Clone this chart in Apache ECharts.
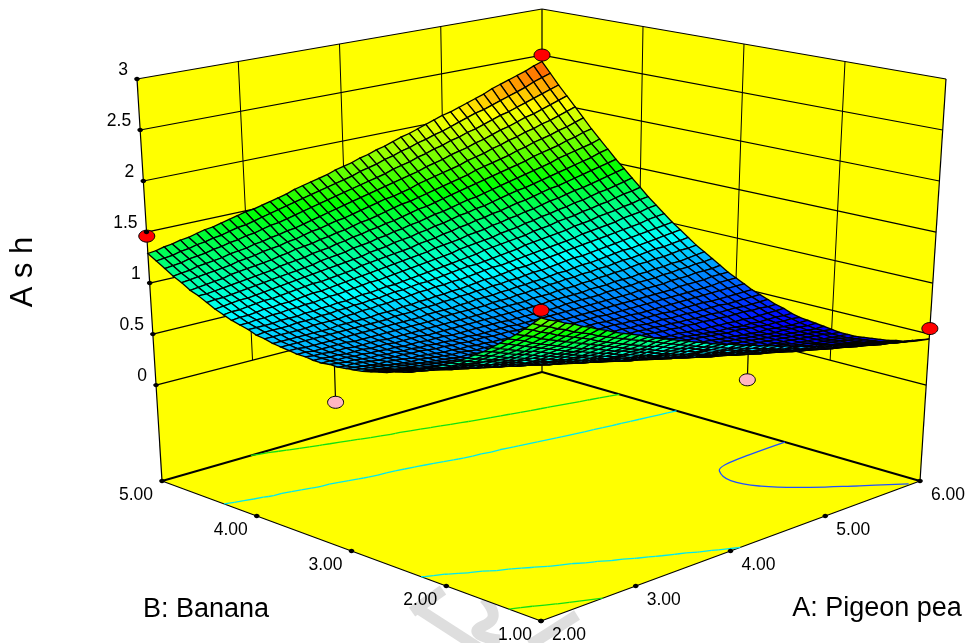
<!DOCTYPE html>
<html><head><meta charset="utf-8">
<style>html,body{margin:0;padding:0;background:#fff}#c{width:977px;height:643px}</style>
<script src="https://cdn.jsdelivr.net/npm/echarts@6/dist/echarts.min.js"></script>
</head><body><div id="c"></div>
<script>
const aTicks=[2,3,4,5,6];
const bTicks=[1,2,3,4,5];
const zTicks=[0,0.5,1,1.5,2,2.5,3];
const redA=[6,2,6,2], redB=[5,5,1,1], redZ=[2.5,1.46,0.554,1.817];
const pinkA=[2,4.12], pinkB=[3.12,1], pinkZ=[0.41,0.62], pinkTop=[0.78,0.93];
const contourLevels=[0.945,1.475], contourColors=['#00e8f0','#10e010'];
const lowContourA=[6,5.62,5.33,5.2,5.1,5.16,5.38,5.64,5.9];
const lowContourB=[2.43,2.42,2.39,2.32,2.1,1.84,1.54,1.28,1.02];
// Ash x 100. Rows: B from 1 to 5. Columns: A from 2 to 6.
const ashRows=[
[175,171,168,164,161,157,154,150,147,143,140,137,134,130,127,124,121,118,115,112,109,106,103,101,98,95,93,90,88,85,83,80,78,75,73,71,69,66,64,62,60,58,56,54,52,50,48,47,45],
[168,164,161,157,154,150,147,144,140,137,134,131,128,125,122,119,116,113,110,107,104,101,99,96,93,91,88,86,83,81,78,76,74,71,69,67,65,63,61,59,57,55,53,51,49,47,46,44,42],
[161,158,154,151,147,144,141,138,135,131,128,125,122,119,116,113,111,108,105,102,100,97,94,92,89,87,84,82,79,77,75,72,70,68,66,64,62,60,58,56,54,52,50,48,46,45,43,41,40],
[154,151,148,144,141,138,135,132,129,126,123,120,117,114,111,108,106,103,100,98,95,93,90,88,85,83,80,78,76,73,71,69,67,65,63,61,59,57,55,53,51,49,47,46,44,42,41,39,37],
[148,145,142,138,135,132,129,126,123,120,118,115,112,109,107,104,101,99,96,93,91,88,86,84,81,79,77,74,72,70,68,66,64,62,60,58,56,54,52,50,48,47,45,43,42,40,39,37,36],
[142,139,136,133,130,127,124,121,118,115,113,110,107,105,102,99,97,94,92,89,87,85,82,80,78,76,73,71,69,67,65,63,61,59,57,55,53,51,50,48,46,45,43,41,40,38,37,35,34],
[136,133,130,127,124,122,119,116,113,111,108,105,103,100,98,95,93,90,88,86,83,81,79,77,74,72,70,68,66,64,62,60,58,56,55,53,51,49,48,46,44,43,41,40,38,37,35,34,33],
[130,128,125,122,119,117,114,111,109,106,104,101,99,96,94,91,89,87,84,82,80,78,76,74,71,69,67,65,63,62,60,58,56,54,53,51,49,47,46,44,43,41,40,38,37,35,34,33,32],
[125,122,120,117,114,112,109,107,104,102,99,97,95,92,90,88,85,83,81,79,77,75,73,71,69,67,65,63,61,59,58,56,54,52,51,49,47,46,44,43,41,40,39,37,36,35,33,32,31],
[120,117,115,112,110,107,105,103,100,98,95,93,91,89,86,84,82,80,78,76,74,72,70,68,66,64,63,61,59,57,56,54,52,51,49,48,46,45,43,42,40,39,38,36,35,34,33,31,30],
[115,113,110,108,106,103,101,99,96,94,92,90,87,85,83,81,79,77,75,73,71,69,68,66,64,62,61,59,57,56,54,52,51,49,48,46,45,44,42,41,40,38,37,36,35,33,32,31,30],
[111,108,106,104,101,99,97,95,93,91,88,86,84,82,80,78,76,75,73,71,69,67,65,64,62,60,59,57,56,54,53,51,50,48,47,45,44,43,41,40,39,38,37,36,35,34,33,31,30],
[107,104,102,100,98,96,93,91,89,87,85,83,81,79,78,76,74,72,70,69,67,65,64,62,60,59,57,56,54,53,51,50,49,47,46,45,44,42,41,40,39,38,37,36,35,34,33,32,31],
[103,100,98,96,94,92,90,88,86,84,82,81,79,77,75,73,72,70,68,67,65,64,62,60,59,57,56,55,53,52,51,49,48,47,46,44,43,42,41,40,39,38,37,36,35,34,33,32,32],
[99,97,95,93,91,89,87,85,83,82,80,78,76,75,73,71,70,68,67,65,64,62,61,59,58,56,55,54,52,51,50,49,48,46,45,44,43,42,41,40,39,38,37,36,36,35,34,33,33],
[95,93,92,90,88,86,84,83,81,79,77,76,74,73,71,69,68,66,65,64,62,61,59,58,57,56,54,53,52,51,50,49,47,46,45,44,43,42,41,40,39,38,37,37,36,35,34,34,34],
[92,90,89,87,85,83,82,80,78,77,75,74,72,71,69,68,67,65,64,62,61,60,59,57,56,55,54,53,52,51,50,49,48,47,46,45,44,43,42,41,41,40,39,38,37,37,36,36,35],
[89,87,86,84,83,81,79,78,76,75,73,72,71,69,68,67,65,64,63,62,60,59,58,57,56,55,54,53,52,51,50,49,48,47,46,45,44,43,42,41,41,40,39,39,38,38,38,37,37],
[87,85,83,82,80,79,77,76,75,73,72,71,69,68,67,66,64,63,62,61,60,59,58,57,56,55,54,53,52,51,50,49,48,47,46,46,45,44,43,43,42,42,41,41,40,40,40,40,40],
[84,83,81,80,78,77,76,74,73,72,71,69,68,67,66,65,64,63,62,61,60,59,58,57,56,55,54,53,53,52,51,50,50,49,48,48,47,47,46,46,45,45,44,44,44,43,43,42,42],
[82,81,79,78,77,75,74,73,72,71,70,68,67,66,65,64,63,62,61,60,60,59,58,57,56,56,55,54,53,53,52,51,51,50,50,49,49,48,48,47,47,47,46,46,46,45,45,45,45],
[80,79,78,76,75,74,73,72,71,70,69,68,67,66,65,64,63,62,61,61,60,59,59,58,57,56,56,55,54,54,53,53,52,52,51,51,51,50,50,50,49,49,49,49,48,48,48,48,48],
[78,77,76,75,74,73,72,71,70,69,68,67,66,66,65,64,63,62,62,61,60,60,59,58,58,57,57,56,56,55,55,55,54,54,53,53,53,53,52,52,52,52,52,51,51,51,51,51,51],
[77,76,75,74,73,72,71,70,70,69,68,67,66,66,65,64,64,63,62,62,61,61,60,60,59,59,58,58,57,57,57,56,56,56,56,55,55,55,55,55,55,55,55,55,55,55,55,55,55],
[76,75,74,73,72,72,71,70,69,69,68,67,66,66,65,65,64,64,63,63,62,62,61,61,61,60,60,60,59,59,59,59,58,58,58,58,58,58,58,58,58,58,58,58,58,58,59,59,59],
[75,74,74,73,72,71,71,70,70,69,69,68,67,67,66,66,65,65,65,64,64,64,63,63,62,62,62,62,61,61,61,61,61,61,61,61,61,61,61,61,61,61,62,62,62,62,63,63,63],
[75,74,73,73,72,71,71,70,70,69,69,68,68,67,67,66,66,66,65,65,65,65,65,64,64,64,64,64,64,64,64,64,64,64,64,64,64,64,65,65,65,65,66,66,66,67,67,67,68],
[74,74,73,73,72,72,71,71,70,70,69,69,69,68,68,68,67,67,67,67,67,67,67,66,66,66,66,66,66,66,67,67,67,67,67,68,68,68,68,69,69,69,70,70,71,71,72,72,73],
[74,74,73,73,72,72,72,71,71,71,70,70,70,70,69,69,69,69,69,69,69,69,69,69,69,69,69,69,69,70,70,70,70,70,71,71,71,72,72,72,73,73,74,74,75,75,76,77,78],
[75,74,74,73,73,73,72,72,72,72,71,71,71,71,71,71,71,71,71,71,71,71,71,72,72,72,72,72,73,73,73,74,74,74,75,75,76,76,77,77,78,79,79,80,80,81,82,82,83],
[75,75,74,74,74,74,74,73,73,73,73,73,73,73,73,73,73,73,74,74,74,74,74,74,75,75,75,76,76,77,77,78,78,79,79,80,80,81,81,82,83,83,84,85,86,86,87,88,89],
[76,76,75,75,75,75,75,75,75,75,75,75,75,75,75,75,75,76,76,76,76,77,77,78,78,78,79,79,80,80,81,81,82,83,83,84,85,85,86,87,88,89,89,90,91,92,93,94,95],
[77,77,77,77,77,77,77,77,77,77,77,77,77,77,78,78,78,79,79,79,80,80,81,81,82,82,83,83,84,84,85,86,86,87,88,89,90,90,91,92,93,94,95,96,97,98,99,100,101],
[78,78,78,78,78,78,78,78,79,79,79,79,79,80,80,80,81,81,82,82,83,83,84,84,85,86,87,87,88,89,90,90,91,92,93,94,95,96,97,98,99,100,101,102,103,104,106,107,108],
[80,80,80,80,80,80,81,81,81,81,82,82,83,83,84,84,85,85,86,87,87,88,88,89,89,90,91,92,93,93,94,95,96,97,98,99,100,101,102,104,105,106,107,108,110,111,112,114,115],
[81,82,82,82,82,83,83,83,84,84,85,85,86,86,87,87,88,89,89,90,91,91,92,93,94,95,96,96,97,98,99,100,101,103,104,105,106,107,108,110,111,112,114,115,116,118,119,121,122],
[84,84,84,84,85,85,85,86,86,87,87,88,88,89,90,90,91,92,92,93,94,95,96,97,98,99,100,101,102,104,105,106,107,108,109,111,112,113,115,116,117,119,120,122,123,125,127,128,130],
[86,86,87,87,88,88,89,89,90,90,91,92,92,93,94,95,96,96,97,98,99,100,101,102,103,104,105,107,108,109,110,111,113,114,115,117,118,120,121,123,124,126,127,129,131,132,134,136,138],
[88,89,89,90,91,91,92,92,93,94,95,95,96,97,98,99,100,101,102,103,104,105,106,107,108,110,111,112,113,115,116,117,119,120,122,123,125,126,128,130,131,133,135,136,138,140,142,144,146],
[91,92,92,93,94,95,95,96,97,98,99,100,100,101,102,103,104,106,107,108,109,110,111,112,114,115,116,118,119,121,122,124,125,127,128,130,132,133,135,137,139,140,142,144,146,148,150,152,154],
[94,95,96,97,97,98,99,100,101,102,103,104,105,106,107,108,109,110,111,113,114,115,117,118,119,121,122,124,125,127,129,130,132,133,135,137,139,141,142,144,146,148,150,152,154,156,158,161,163],
[98,99,99,100,101,102,103,104,105,106,107,108,109,110,112,113,114,115,117,118,119,121,122,124,125,127,128,130,132,133,135,137,139,140,142,144,146,148,150,152,154,156,158,161,163,165,167,169,172],
[102,102,103,104,105,106,107,108,109,110,112,113,114,115,117,118,119,121,122,124,125,127,128,130,131,133,135,137,138,140,142,144,146,148,150,152,154,156,158,160,162,165,167,169,171,174,176,179,181],
[105,106,107,108,109,111,112,113,114,115,116,118,119,121,122,123,125,126,128,129,131,133,134,136,138,140,142,143,145,147,149,151,153,155,157,160,162,164,166,168,171,173,176,178,180,183,185,188,191],
[110,111,112,113,114,115,116,118,119,120,122,123,124,126,127,129,131,132,134,136,137,139,141,143,145,147,148,150,152,155,157,159,161,163,165,168,170,172,175,177,180,182,185,187,190,192,195,198,201],
[114,115,116,118,119,120,121,123,124,125,127,128,130,131,133,134,136,138,140,142,144,146,148,150,152,154,156,158,160,162,164,167,169,171,174,176,178,181,183,186,189,191,194,197,199,202,205,208,211],
[119,120,121,123,124,125,127,128,130,131,133,134,136,138,139,141,143,145,147,149,151,153,155,157,159,161,163,165,168,170,172,175,177,180,182,185,187,190,192,195,198,201,203,206,209,212,215,218,221],
[124,125,126,128,129,131,132,134,135,137,139,140,142,144,146,148,150,152,154,156,158,160,162,164,166,169,171,173,176,178,181,183,186,188,191,193,196,199,202,205,207,210,213,216,219,222,226,229,232],
[129,130,132,133,135,136,138,140,141,143,145,147,149,150,152,154,156,158,161,163,165,167,169,172,174,176,179,181,184,186,189,192,194,197,200,203,206,208,211,214,217,220,224,227,230,233,236,240,243]
];
const ashGrid=ashRows.map(r=>r.map(v=>v/100));
const N=ashGrid.length-1;

const floorZ=-0.94,topZ=3;
const box={F:[[541,621],[541,177]],R:[[920,481],[946,79]],L:[[162,481],[137,79]],B:[[542,372],[542,9]]};
function project(A,B,z){const a=(A-2)/4,b=(B-1)/4,t=(z-floorZ)/(topZ-floorZ);
 const p=[0,1].map(k=>{const f=box.F[0][k]+(box.F[1][k]-box.F[0][k])*t,r=box.R[0][k]+(box.R[1][k]-box.R[0][k])*t,l=box.L[0][k]+(box.L[1][k]-box.L[0][k])*t,c=box.B[0][k]+(box.B[1][k]-box.B[0][k])*t;
  return f*(1-a)*(1-b)+r*a*(1-b)+l*(1-a)*b+c*a*b;});return p;}
function seg(p,q,w,c){return {type:'line',shape:{x1:p[0],y1:p[1],x2:q[0],y2:q[1]},style:{stroke:c||'#000',lineWidth:w||1}};}
function ramp(z){let t=(z-0.35)/(2.6-0.35);t=Math.max(0,Math.min(1,t))*4;const s=t-Math.floor(t),u=Math.floor(t);
 const c=[[0,0,255],[0,255,255],[0,255,0],[255,255,0],[255,0,0],[255,0,0]];const p=c[u],q=c[u+1];return 'rgb('+[0,1,2].map(k=>Math.round(p[k]+(q[k]-p[k])*s)).join(',')+')';}
const A0=aTicks[0],A1=aTicks[4],B0=bTicks[0],B1=bTicks[4];
function gridA(i){return A0+(A1-A0)*i/N;} function gridB(j){return B0+(B1-B0)*j/N;}
function boxGroup(){const ch=[];
 const poly=(pts)=>({type:'polygon',shape:{points:pts},style:{fill:'#ffff00',stroke:'none'}});
 ch.push(poly([project(A0,B1,floorZ),project(A1,B1,floorZ),project(A1,B1,topZ),project(A0,B1,topZ)]));
 ch.push(poly([project(A1,B0,floorZ),project(A1,B1,floorZ),project(A1,B1,topZ),project(A1,B0,topZ)]));
 ch.push(poly([project(A0,B0,floorZ),project(A1,B0,floorZ),project(A1,B1,floorZ),project(A0,B1,floorZ)]));
 zTicks.forEach(z=>{ch.push(seg(project(A0,B1,z),project(A1,B1,z),1.2));ch.push(seg(project(A1,B1,z),project(A1,B0,z),1.2));});
 aTicks.slice(1,-1).forEach(v=>ch.push(seg(project(v,B1,0),project(v,B1,topZ),1)));
 bTicks.slice(1,-1).forEach(v=>ch.push(seg(project(A1,v,0),project(A1,v,topZ),1)));
 ch.push(seg(project(A0,B1,floorZ),project(A0,B1,topZ),1.2));
 ch.push(seg(project(A1,B0,floorZ),project(A1,B0,topZ),1.2));
 ch.push(seg(project(A1,B1,floorZ),project(A1,B1,topZ),1.2));
 ch.push(seg(project(A0,B1,floorZ),project(A1,B1,floorZ),2));
 ch.push(seg(project(A1,B0,floorZ),project(A1,B1,floorZ),2));
 ch.push(seg(project(A0,B0,floorZ),project(A1,B0,floorZ),1.2));
 ch.push(seg(project(A0,B0,floorZ),project(A0,B1,floorZ),1.2));
 return {type:'group',children:ch};}
function contourGroup(){const ch=[];
 contourLevels.forEach((L,li)=>{for(let j=0;j<N;j++)for(let i=0;i<N;i++){
  const v=[[i,j],[i+1,j],[i+1,j+1],[i,j+1]];const pts=[];
  for(let k=0;k<4;k++){const p=v[k],q=v[(k+1)%4];const zp=ashGrid[p[1]][p[0]],zq=ashGrid[q[1]][q[0]];
   if((zp-L)*(zq-L)<0){const f=(L-zp)/(zq-zp);pts.push([p[0]+(q[0]-p[0])*f,p[1]+(q[1]-p[1])*f]);}}
  if(pts.length>=2){const P=pts.map(x=>project(gridA(x[0]),gridB(x[1]),floorZ));ch.push(seg(P[0],P[1],1.3,contourColors[li]));if(pts.length===4)ch.push(seg(P[2],P[3],1.3,contourColors[li]));}
 }});
 ch.push({type:'polyline',shape:{points:lowContourA.map((A,k)=>project(A,lowContourB[k],floorZ)),smooth:0.4},style:{stroke:'#2050ff',lineWidth:1.3,fill:'none'}});
 return {type:'group',children:ch};}
function dot(p,rx,ry,fill,sw){return {type:'ellipse',shape:{cx:p[0],cy:p[1],rx:rx,ry:ry},style:{fill:fill,stroke:'#000',lineWidth:sw}};}
function txt(s,x,y,size,align,rot){return {type:'text',x:x,y:y,rotation:rot||0,style:{text:s,fill:'#000',font:size+'px "Liberation Sans",Arial,sans-serif',textAlign:align||'center',textVerticalAlign:'middle',textBaseline:'middle'}};}
function labelGroup(){const ch=[];
 zTicks.forEach(z=>{const p=project(A0,B1,z);ch.push(dot(p,2.8,2.2,'#000',0));ch.push(txt(String(z),p[0]-9,p[1]-8.5,17.5,'right'));});
 aTicks.forEach(v=>{const p=project(v,B0,floorZ);ch.push(dot(p,2.8,2.2,'#000',0));ch.push(txt(v.toFixed(2),p[0]+28,p[1]+14,17.5));});
 bTicks.forEach(v=>{const p=project(A0,v,floorZ);ch.push(dot(p,2.8,2.2,'#000',0));ch.push(txt(v.toFixed(2),p[0]-26,p[1]+14,17.5));});
 ch.push(txt('B: Banana',206,610,27));ch.push(txt('A: Pigeon pea',877,609,27));ch.push(txt('A s h',23,272,31,'center',Math.PI/2));
 return {type:'group',children:ch};}
function markGroup(){const g='#dedede',w=11;const pl=(pts,s)=>({type:'polyline',shape:{points:pts,smooth:s||0},style:{stroke:g,lineWidth:w,fill:'none'}});
 return {type:'group',children:[pl([[412,612],[443,590]]),pl([[420,610],[485,652]]),pl([[484,598],[493,617],[477,632],[500,640]],0.5),pl([[530,645],[577,615]])]};}
const cells=[];for(let i=N-1;i>=0;i--)for(let j=N-1;j>=0;j--)cells.push([i,j]);
const single=[[0]];
const chart=echarts.init(document.getElementById('c'),null,{renderer:'canvas'});
function mk(name,z,fn){return {type:'custom',name:name,coordinateSystem:'none',z:z,silent:true,animation:false,data:single,renderItem:fn};}
chart.setOption({animation:false,backgroundColor:'#fff',series:[
 mk('watermark',1,markGroup),
 mk('box',2,boxGroup),mk('contours',3,contourGroup),
 mk('lowPoints',4,()=>({type:'group',children:pinkA.flatMap((A,k)=>{const p=project(A,pinkB[k],pinkZ[k]),q=project(A,pinkB[k],pinkTop[k]);return [seg(p,q,1.2),dot(p,8,6,'#ffb6c1',1)];})})),
 {type:'custom',name:'Ash',coordinateSystem:'none',z:5,silent:true,animation:false,progressive:0,data:cells,renderItem:(params,api)=>{const i=api.value(0),j=api.value(1);
   const z=[ashGrid[j][i],ashGrid[j][i+1],ashGrid[j+1][i+1],ashGrid[j+1][i]];
   const pts=[project(gridA(i),gridB(j),z[0]),project(gridA(i+1),gridB(j),z[1]),project(gridA(i+1),gridB(j+1),z[2]),project(gridA(i),gridB(j+1),z[3])];
   return {type:'polygon',shape:{points:pts},style:{fill:ramp((z[0]+z[1]+z[2]+z[3])/4),stroke:'#000',lineWidth:1.3}};}},
 mk('highPoints',6,()=>({type:'group',children:redA.map((A,k)=>dot(project(A,redB[k],redZ[k]),8,6,'#ff0000',1))})),
 mk('labels',7,labelGroup)
]});
</script></body></html>
